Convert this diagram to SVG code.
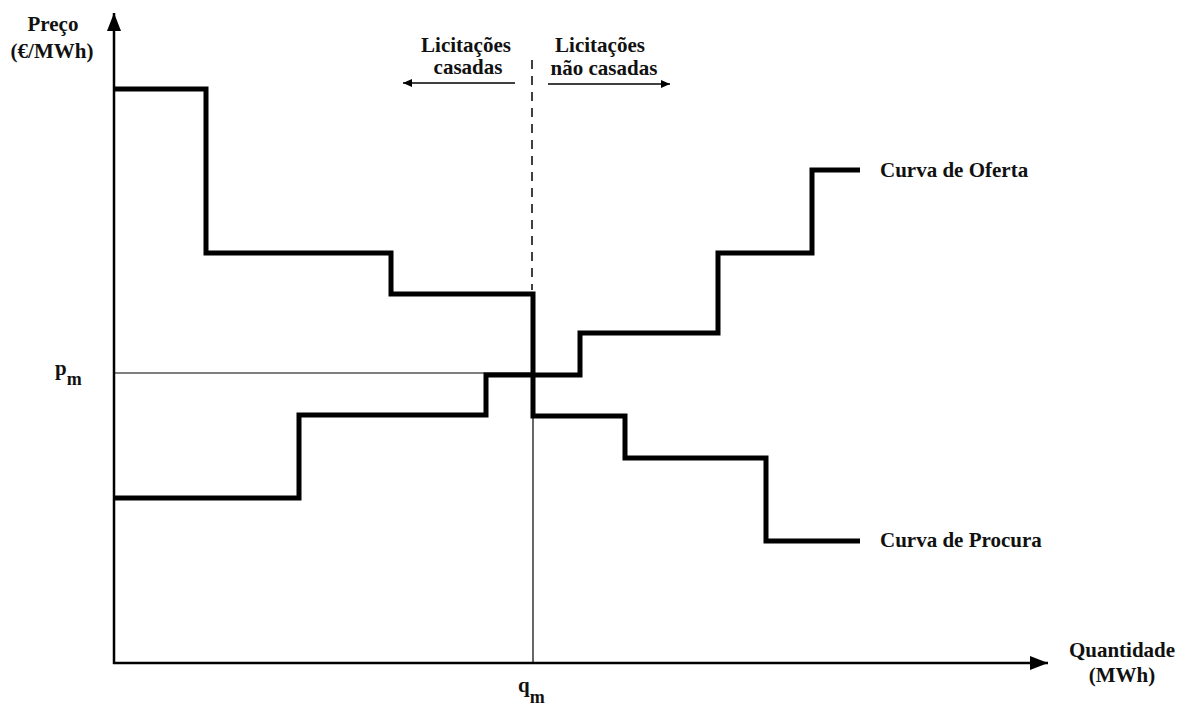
<svg xmlns="http://www.w3.org/2000/svg" width="1190" height="706" viewBox="0 0 1190 706">
<style>
text{font-family:"Liberation Serif","Times New Roman",serif;font-weight:bold;fill:#111;font-size:21px}
.c{text-anchor:middle}
.curve{fill:none;stroke:#000;stroke-width:5;stroke-linejoin:miter}
.axis{fill:none;stroke:#000;stroke-width:2.5}
.thin{fill:none;stroke:#000;stroke-width:1.2}
.arr{fill:none;stroke:#000;stroke-width:1.5}
</style>
<defs>
<marker id="bigY" markerWidth="18" markerHeight="14" refX="18" refY="7" orient="auto" markerUnits="userSpaceOnUse" viewBox="0 0 18 14">
<path d="M0,0 L18,7 L0,14 Z" fill="#000"/>
</marker>
<marker id="small" markerWidth="9" markerHeight="8" refX="9" refY="4" orient="auto" markerUnits="userSpaceOnUse" viewBox="0 0 9 8">
<path d="M0,0 L9,4 L0,8 Z" fill="#000"/>
</marker>
</defs>
<g id="axes">
<line class="axis" x1="114" y1="664" x2="114" y2="13" marker-end="url(#bigY)"/>
<line class="axis" x1="113" y1="663" x2="1048" y2="663" marker-end="url(#bigY)"/>
</g>
<g id="connectors">
<line class="thin" x1="114" y1="373" x2="533" y2="373"/>
<line class="thin" x1="533" y1="416" x2="533" y2="663"/>
<line class="arr" x1="532" y1="60" x2="532" y2="290" stroke-dasharray="9,7" stroke-width="2.2"/>
<line class="arr" x1="515" y1="83" x2="403" y2="83" marker-end="url(#small)"/>
<line class="arr" x1="548" y1="84" x2="670" y2="84" marker-end="url(#small)"/>
</g>
<g id="demand">
<path class="curve" d="M114,89 H206 V253 H391 V294 H533 V416 H625 V458 H766 V541 H860"/>
</g>
<g id="supply">
<path class="curve" d="M114,498 H299 V415 H486 V375 H580 V333 H718 V253 H812 V170 H860"/>
</g>
<g id="labels">
<text class="c" x="53" y="31" font-size="20">Preço</text>
<text class="c" x="52" y="58" font-size="20">(€/MWh)</text>
<text class="c" x="466" y="52">Licitações</text>
<text class="c" x="468" y="74">casadas</text>
<text class="c" x="600" y="52">Licitações</text>
<text class="c" x="604" y="75">não casadas</text>
<text x="55" y="375" font-size="22">p<tspan font-size="18" dy="10">m</tspan></text>
<text x="518" y="692" font-size="22">q<tspan font-size="18" dy="11">m</tspan></text>
<text class="c" x="1122" y="657">Quantidade</text>
<text class="c" x="1122" y="682">(MWh)</text>
<text x="880" y="177">Curva de Oferta</text>
<text x="880" y="547">Curva de Procura</text>
</g>
</svg>
